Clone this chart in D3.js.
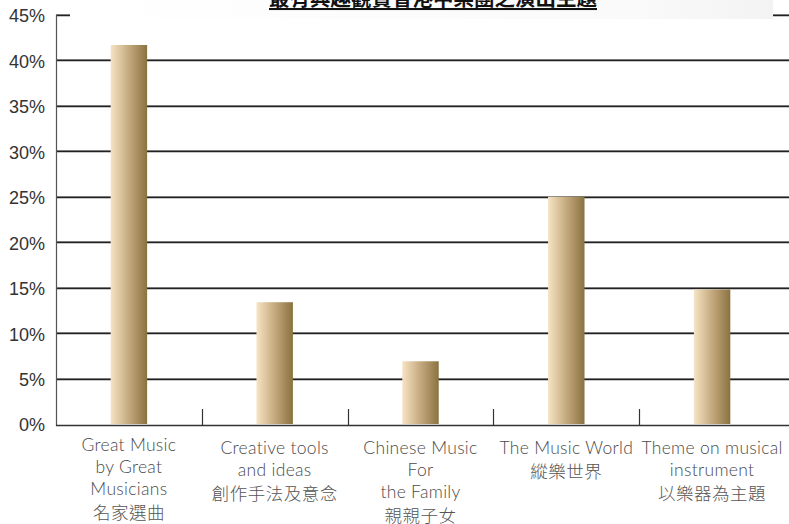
<!DOCTYPE html>
<html><head><meta charset="utf-8">
<script src="https://cdn.jsdelivr.net/npm/d3@7"></script>
<style>body{margin:0;background:#fff}svg{display:block}</style>
</head><body>
<svg id="c" width="789" height="524"></svg>
<script>
const title = "最有興趣觀賞香港中樂團之演出主題";
const categories = ["Great Music", "Creative tools", "Chinese Music", "The Music World", "Theme on musical"];
const labelLines = [
  ["Great Music", "by Great", "Musicians", "名家選曲"],
  ["Creative tools", "and ideas", "創作手法及意念"],
  ["Chinese Music", "For", "the Family", "親親子女"],
  ["The Music World", "縱樂世界"],
  ["Theme on musical", "instrument", "以樂器為主題"]
];
const values = [41.7, 13.4, 6.9, 25.0, 14.8];
const yTicks = [0, 5, 10, 15, 20, 25, 30, 35, 40, 45];

(function () {
const svg = d3.select("#c");
const mLeft = 56, mRight = 789, mTop = 15, mBottom = 424;
const y = d3.scaleLinear().domain([0, 45]).range([mBottom, mTop]);
const x = d3.scaleBand().domain(categories).range([mLeft, mRight - 4]).paddingInner(0.75).paddingOuter(0.375);
const isCJK = s => /[\u4e00-\u9fff]/.test(s);

const defs = svg.append("defs");
const g = defs.append("linearGradient").attr("id", "bar").attr("x1", "0").attr("x2", "1").attr("y1", "0").attr("y2", "0");
g.append("stop").attr("offset", "0%").attr("stop-color", "#f7e4c4");
g.append("stop").attr("offset", "50%").attr("stop-color", "#c4a97e");
g.append("stop").attr("offset", "100%").attr("stop-color", "#8a7240");

// gridlines
svg.append("g").selectAll("line").data(yTicks.filter(d => d > 0)).join("line")
  .attr("x1", mLeft).attr("x2", mRight)
  .attr("y1", d => Math.round(y(d)) - 0.5).attr("y2", d => Math.round(y(d)) - 0.5)
  .attr("stroke", "#999").attr("stroke-width", 1);
svg.append("g").selectAll("line").data(yTicks.filter(d => d > 0)).join("line")
  .attr("x1", mLeft).attr("x2", mRight)
  .attr("y1", d => Math.round(y(d)) + 0.5).attr("y2", d => Math.round(y(d)) + 0.5)
  .attr("stroke", "#222").attr("stroke-width", 1.3);

// title backdrop
const tg = defs.append("linearGradient").attr("id", "tbg").attr("x1", "0").attr("x2", "1").attr("y1", "0").attr("y2", "0");
tg.append("stop").attr("offset", "0%").attr("stop-color", "#ffffff");
tg.append("stop").attr("offset", "80%").attr("stop-color", "#fafafa");
tg.append("stop").attr("offset", "100%").attr("stop-color", "#f3f3f3");
svg.append("rect").attr("x", 70).attr("y", 0).attr("width", 703).attr("height", 19).attr("fill", "url(#tbg)");
svg.append("text").attr("x", 433).attr("y", 6).attr("text-anchor", "middle")
  .attr("font-family", "'Noto Sans CJK TC', sans-serif").attr("font-size", 20.5).attr("font-weight", 700)
  .attr("fill", "#111").attr("text-decoration", "underline").text(title);

// bars
svg.append("g").selectAll("rect").data(values).join("rect")
  .attr("x", (d, i) => x(categories[i]))
  .attr("y", d => y(d))
  .attr("width", x.bandwidth())
  .attr("height", d => y(0) - y(d))
  .attr("fill", "url(#bar)");

// axes
svg.append("line").attr("x1", mLeft + 0.5).attr("x2", mLeft + 0.5).attr("y1", mTop).attr("y2", mBottom + 2)
  .attr("stroke", "#555").attr("stroke-width", 1.2);
svg.append("line").attr("x1", mLeft).attr("x2", mRight).attr("y1", mBottom + 1.5).attr("y2", mBottom + 1.5)
  .attr("stroke", "#333").attr("stroke-width", 1.3);
const step = x.step();
svg.append("g").selectAll("line").data(categories.slice(1)).join("line")
  .attr("x1", d => Math.round(x(d) - step * x.paddingInner() / 2) + 0.5)
  .attr("x2", d => Math.round(x(d) - step * x.paddingInner() / 2) + 0.5)
  .attr("y1", mBottom - 15).attr("y2", mBottom + 1)
  .attr("stroke", "#333").attr("stroke-width", 1.2);

// y labels
svg.append("g").selectAll("text").data(yTicks).join("text")
  .attr("x", 45).attr("y", d => y(d) + 1).attr("dy", "0.36em").attr("text-anchor", "end")
  .attr("font-family", "'Liberation Sans', Arial, sans-serif").attr("font-size", 18).attr("fill", "#333")
  .text(d => d + "%");

// x labels
const xl = svg.append("g").selectAll("text").data(labelLines).join("text")
  .attr("text-anchor", "middle")
  .attr("font-size", 17.5);
xl.each(function(lines, i) {
  const cx = x(categories[i]) + x.bandwidth() / 2;
  let yy = (i === 0 ? 451 : 453.5);
  const ys = lines.map((d, j) => { if (j > 0) yy += isCJK(d) ? 24 : 22; return yy; });
  d3.select(this).selectAll("tspan").data(lines).join("tspan")
    .attr("x", cx).attr("y", (d, j) => ys[j])
    .style("font-family", d => isCJK(d) ? "'Noto Sans CJK TC'" : "Lato")
    .style("font-weight", 300)
    .style("fill", d => isCJK(d) ? "#555" : "#4a4a4a")
    .style("letter-spacing", d => isCJK(d) ? "0.5px" : "0.3px")
    .text(d => d);
});
})();
</script>
</body></html>
